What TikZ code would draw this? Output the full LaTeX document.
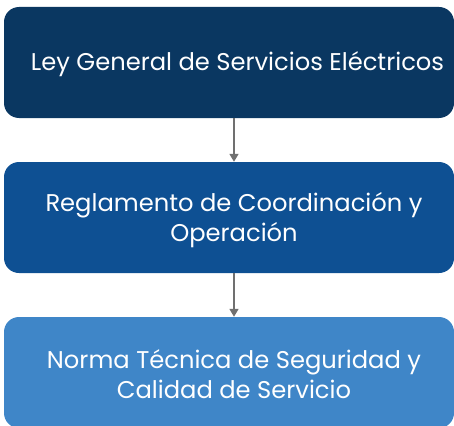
\documentclass[tikz,border=0pt]{standalone}
\usepackage{fontspec}
\setmainfont{Poppins}
\usetikzlibrary{arrows.meta}
\definecolor{boxA}{HTML}{0A3761}
\definecolor{boxB}{HTML}{0E5093}
\definecolor{boxC}{HTML}{3F86C8}
\definecolor{arr}{HTML}{707070}
\tikzset{
  box/.style={rounded corners=15pt, minimum width=450pt, minimum height=111pt, inner sep=0pt, draw=none},
  lbl/.style={text=white, align=center, font=\fontsize{24.2}{29.5}\selectfont, inner sep=0pt},
  conn/.style={draw=arr, line width=1.6pt, -{Triangle[length=8pt,width=9pt]}}
}
\begin{document}
\begin{tikzpicture}[x=1pt,y=-1pt]
\useasboundingbox (0,0) rectangle (454,425);
\clip (0,0) rectangle (454,425);
\node[box, fill=boxA] (b1) at (229,62.5) {};
\node[box, fill=boxB] (b2) at (229,217.5) {};
\node[box, fill=boxC] (b3) at (229,372.5) {};
\node[lbl] (t1) at (237.5,64) {Ley General de Servicios Eléctricos};
\node[lbl] (t2) at (234,220) {Reglamento de Coordinación y\\Operación};
\node[lbl] (t3) at (234,374) {Norma Técnica de Seguridad y\\Calidad de Servicio};
\draw[conn] (b1.south -| t2.north) -- (b2.north -| t2.north);
\draw[conn] (b2.south -| t3.north) -- (b3.north -| t3.north);
\end{tikzpicture}
\end{document}
